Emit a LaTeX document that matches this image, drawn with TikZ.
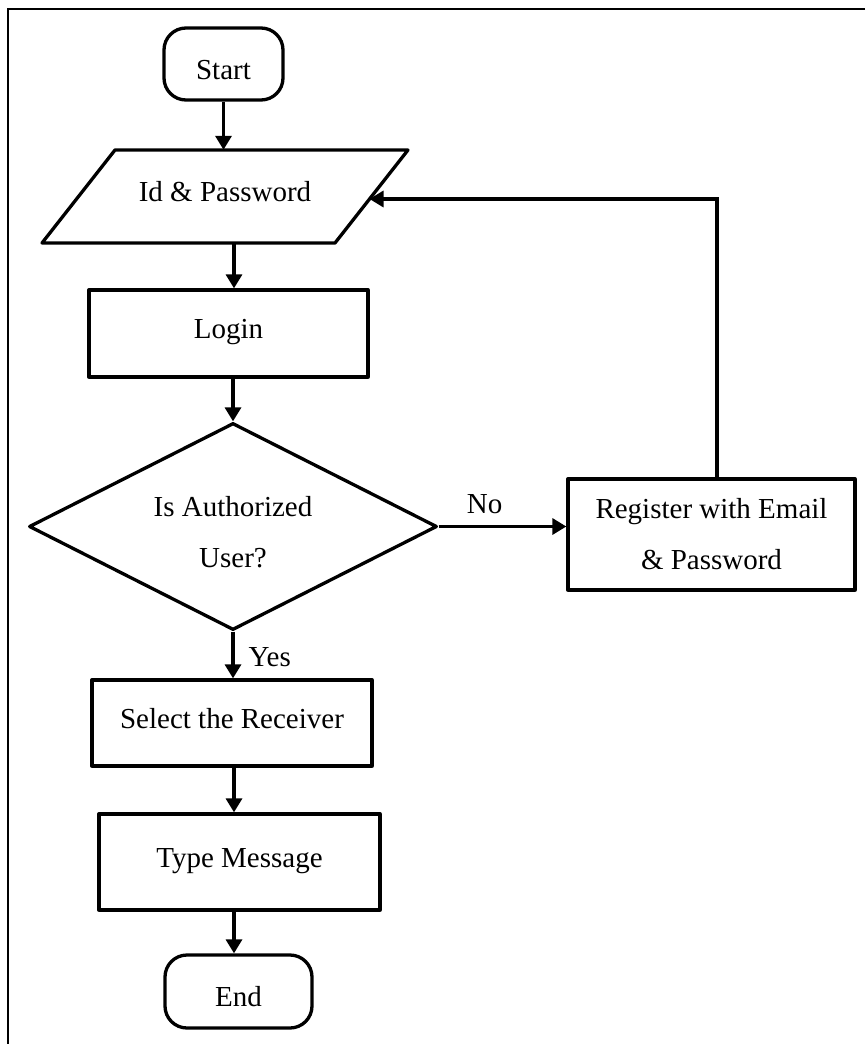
\documentclass[tikz,border=0pt]{standalone}
\usepackage{fontspec}
\setmainfont{Liberation Serif}
\usetikzlibrary{arrows.meta,shapes.geometric}
\tikzset{
  base/.style={draw, line width=3.3pt, line join=round, font=\fontsize{29}{51}\selectfont, align=center, inner sep=0pt},
  term/.style={base, rounded corners=22pt, text height=30pt, text depth=0pt},
  proc/.style={base, text height=20pt, text depth=10pt},
  decide/.style={base, diamond, aspect=1.97, text height=81pt, text depth=0pt},
  arr/.style={line width=3.3pt, -{Triangle[length=14pt,width=16pt]}},
  lbl/.style={font=\fontsize{29}{34}\selectfont, inner sep=0pt},
  frame/.style={line width=1.3pt}
}
\begin{document}
\begin{tikzpicture}[x=1pt,y=-1pt]
\useasboundingbox (0,0) rectangle (865,1044);
% page frame
\draw[frame] (865,9) -- (8,9) -- (8,1044);

% main column for the vertical connectors
\coordinate (col) at (234,0);

\node[term, minimum width=119pt, minimum height=72pt] (start) at (223.5,64) {Start};

% input parallelogram
\coordinate (pTL) at (115,150);
\coordinate (pTR) at (408,150);
\coordinate (pBR) at (335,243);
\coordinate (pBL) at (42,243);
\draw[line width=3.3pt, line join=round] (pTL) -- (pTR) -- (pBR) -- (pBL) -- cycle;
\node[lbl, text height=20pt, text depth=10pt, minimum width=220pt, minimum height=93pt] (idpw) at (225,196.5) {Id \& Password};
\coordinate (pin) at (369.5,199);

\node[proc, minimum width=279pt, minimum height=87pt] (login) at (228.5,333.5) {Login};
\node[decide, minimum width=408pt, minimum height=207pt] (diam) at (233,526.5) {Is Authorized\\User?};
\node[base, minimum width=287pt, minimum height=111pt] (reg) at (711.5,534.5) {Register with Email\\\& Password};
\node[proc, minimum width=280pt, minimum height=86pt] (sel) at (232,723) {Select the Receiver};
\node[proc, minimum width=281pt, minimum height=96pt] (type) at (239.5,862) {Type Message};
\node[term, minimum width=147pt, minimum height=73pt] (end) at (238.5,991.5) {End};

% connectors
\draw[arr] (start.south) -- (start.south |- idpw.north);
\draw[arr] (idpw.south -| col) -- (login.north -| col);
\draw[arr] (login.south -| diam.north) -- (diam.north);
\draw[arr] (diam.east) -- node[lbl, pos=0.36, above=11pt] (no) {No} (diam.east -| reg.west);
\draw[arr] ([xshift=5.5pt]reg.north) |- (pin);
\draw[arr] (diam.south) -- node[lbl, pos=0.54, right=14pt] (yes) {Yes} (sel.north -| diam.south);
\draw[arr] (sel.south -| col) -- (type.north -| col);
\draw[arr] (type.south -| col) -- (end.north -| col);
\end{tikzpicture}
\end{document}
